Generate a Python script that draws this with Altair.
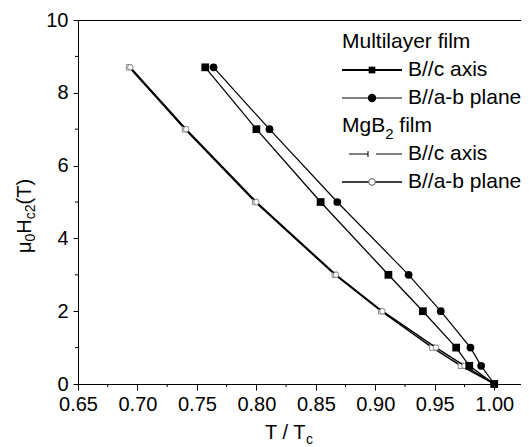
import altair as alt
import pandas as pd

# ---- data ----
field_T = [8.7, 7, 5, 3, 2, 1, 0.5, 0]
ml_c_t = [0.757, 0.800, 0.854, 0.911, 0.940, 0.968, 0.979, 1.000]
ml_ab_t = [0.764, 0.811, 0.868, 0.928, 0.955, 0.980, 0.989, 1.000]
mg_c_t = [0.693, 0.740, 0.799, 0.866, 0.905, 0.948, 0.972, 1.000]
mg_ab_t = [0.694, 0.741, 0.800, 0.867, 0.906, 0.951, 0.975, 1.000]

x_ticks = [0.65, 0.70, 0.75, 0.80, 0.85, 0.90, 0.95, 1.00]
x_minor = [0.675, 0.725, 0.775, 0.825, 0.875, 0.925, 0.975, 1.025]
y_ticks = [0, 2, 4, 6, 8, 10]
y_minor = [1, 3, 5, 7, 9]

legend_groups = ["Multilayer film", "MgB"]
legend_labels = ["B//c axis", "B//a-b plane"]

FONT = "Liberation Sans"
W, H = 443, 364
PAD_L, PAD_T, PAD_R, PAD_B = 70, 12, 0, 63

xs = alt.Scale(domain=[0.65, 1.0225], nice=False, zero=False)
ys = alt.Scale(domain=[0, 10], nice=False, zero=False)


def X():
    return alt.X("t:Q", scale=xs, axis=alt.Axis(values=x_ticks, format=".2f", title=None,
                                                  labelPadding=4, tickSize=6, labelFlush=False))


def Y():
    return alt.Y("h:Q", scale=ys, axis=alt.Axis(values=y_ticks, format="d", title=None,
                                                  labelPadding=5, tickSize=5, labelFlush=False))


def series(ts):
    return pd.DataFrame({"t": ts, "h": field_T})


layers = []

# MgB2 film series (underneath)
for ts, shape in [(mg_c_t, "square"), (mg_ab_t, "circle")]:
    d = series(ts)
    base = alt.Chart(d)
    layers.append(base.mark_line(color="black", strokeWidth=1.4).encode(x=X(), y=Y()))
    layers.append(base.mark_point(shape=shape, filled=True, fill="white", stroke="#8a8a8a",
                                  strokeWidth=1, size=30, opacity=1).encode(x=X(), y=Y()))

# Multilayer film series
for ts, shape, sw in [(ml_c_t, "square", 1.3), (ml_ab_t, "circle", 1.2)]:
    d = series(ts)
    base = alt.Chart(d)
    layers.append(base.mark_line(color="black", strokeWidth=sw).encode(x=X(), y=Y()))
    layers.append(base.mark_point(shape=shape, filled=True, color="black",
                                  size=60, opacity=1).encode(x=X(), y=Y()))

# minor ticks
layers.append(alt.Chart(pd.DataFrame({"t": x_minor[:-1]})).mark_rule(color="black", strokeWidth=1).encode(
    x=X(), y=alt.value(H), y2=alt.value(H + 3)))
layers.append(alt.Chart(pd.DataFrame({"h": y_minor})).mark_rule(color="black", strokeWidth=1).encode(
    y=Y(), x=alt.value(0), x2=alt.value(-3)))

# ---- legend (pixel layout inside plot) ----
lg_x0 = 342 - (8 + PAD_L)
sym_l, sym_r = lg_x0, lg_x0 + 60
sym_c = lg_x0 + 30
txt_x = lg_x0 + 66
row0 = 42 - (8 + PAD_T)
step = 28
LFS = 21
one = pd.DataFrame({"a": [0]})


def txt(s, x, y, size=LFS, **kw):
    return alt.Chart(one).mark_text(text=s, font=FONT, fontSize=size, color="black", align="left",
                                    baseline="middle", **kw).encode(x=alt.value(x), y=alt.value(y))


def hline(x1, x2, y, sw=1.2):
    return alt.Chart(one).mark_rule(color="black", strokeWidth=sw).encode(
        x=alt.value(x1), x2=alt.value(x2), y=alt.value(y))


# Multilayer header
layers.append(txt(legend_groups[0], lg_x0, row0))
y1 = row0 + step
layers.append(hline(sym_l, sym_r, y1, 1.8))
layers.append(alt.Chart(one).mark_point(shape="square", filled=True, color="black", size=45, opacity=1)
              .encode(x=alt.value(sym_c), y=alt.value(y1)))
layers.append(txt(legend_labels[0], txt_x, y1))
y2 = row0 + 2 * step
layers.append(hline(sym_l, sym_r, y2, 1.0))
layers.append(alt.Chart(one).mark_point(shape="circle", filled=True, color="black", size=70, opacity=1)
              .encode(x=alt.value(sym_c), y=alt.value(y2)))
layers.append(txt(legend_labels[1], txt_x, y2))
# MgB2 header with subscript
y3 = row0 + 3 * step
layers.append(txt(legend_groups[1], lg_x0, y3))
mgb_w = (0.833 + 0.556 + 0.667) * LFS
layers.append(txt("2", lg_x0 + mgb_w, y3 + 8, size=15))
layers.append(txt("film", lg_x0 + mgb_w + 0.556 * 15 + 0.278 * LFS, y3))
y4 = row0 + 4 * step
layers.append(hline(sym_l + 7, sym_c - 4, y4, 1.0))
layers.append(alt.Chart(one).mark_rule(color="black", strokeWidth=1).encode(
    x=alt.value(sym_c - 4), y=alt.value(y4 - 3), y2=alt.value(y4 + 3)))
layers.append(hline(sym_c + 4, sym_r, y4, 1.0))
layers.append(txt(legend_labels[0], txt_x, y4))
y5 = row0 + 5 * step
layers.append(hline(sym_l, sym_r, y5, 1.6))
layers.append(alt.Chart(one).mark_point(shape="circle", filled=True, fill="white", stroke="#555555",
                                        strokeWidth=1, size=45, opacity=1)
              .encode(x=alt.value(sym_c), y=alt.value(y5)))
layers.append(txt(legend_labels[1], txt_x, y5))

# ---- axis titles with subscripts ----
TFS, SFS = 20, 14
# x title: "T / T" + subscript c
xt_x = 265 - (8 + PAD_L)
xt_y = 439 - (8 + PAD_T)
layers.append(alt.Chart(one).mark_text(text="T / T", font=FONT, fontSize=TFS, color="black",
                                       align="left", baseline="alphabetic")
              .encode(x=alt.value(xt_x), y=alt.value(xt_y)))
layers.append(alt.Chart(one).mark_text(text="c", font=FONT, fontSize=SFS, color="black",
                                       align="left", baseline="alphabetic")
              .encode(x=alt.value(xt_x + 2.056 * TFS), y=alt.value(xt_y + 5)))

# y title: rotated, reads bottom to top
yt_base_x = 31 - (8 + PAD_L)
yt_y = 253 - (8 + PAD_T)
segs = [("\u03bc", TFS, 0.576, 0), ("0", SFS, 0.556, 4), ("H", TFS, 0.722, 0),
        ("c2", SFS, 1.056, 4), (" (T)", TFS, 1.555, 0)]
cur = yt_y
for s, fs, wem, off in segs:
    layers.append(alt.Chart(one).mark_text(text=s, font=FONT, fontSize=fs, color="black", angle=270,
                                           align="left", baseline="alphabetic")
                  .encode(x=alt.value(yt_base_x + off), y=alt.value(cur)))
    cur -= wem * fs

chart = alt.layer(*layers).properties(
    width=W, height=H,
    autosize=alt.AutoSizeParams(type="none"),
    padding={"left": PAD_L, "top": PAD_T, "right": PAD_R, "bottom": PAD_B},
).configure_view(stroke="black", strokeWidth=1).configure_axis(
    grid=False, domainColor="black", tickColor="black", labelColor="black",
    labelFont=FONT, labelFontSize=20, domainWidth=1, tickWidth=1,
)

chart.save("out.html", embed_options={"renderer": "svg", "actions": False})
